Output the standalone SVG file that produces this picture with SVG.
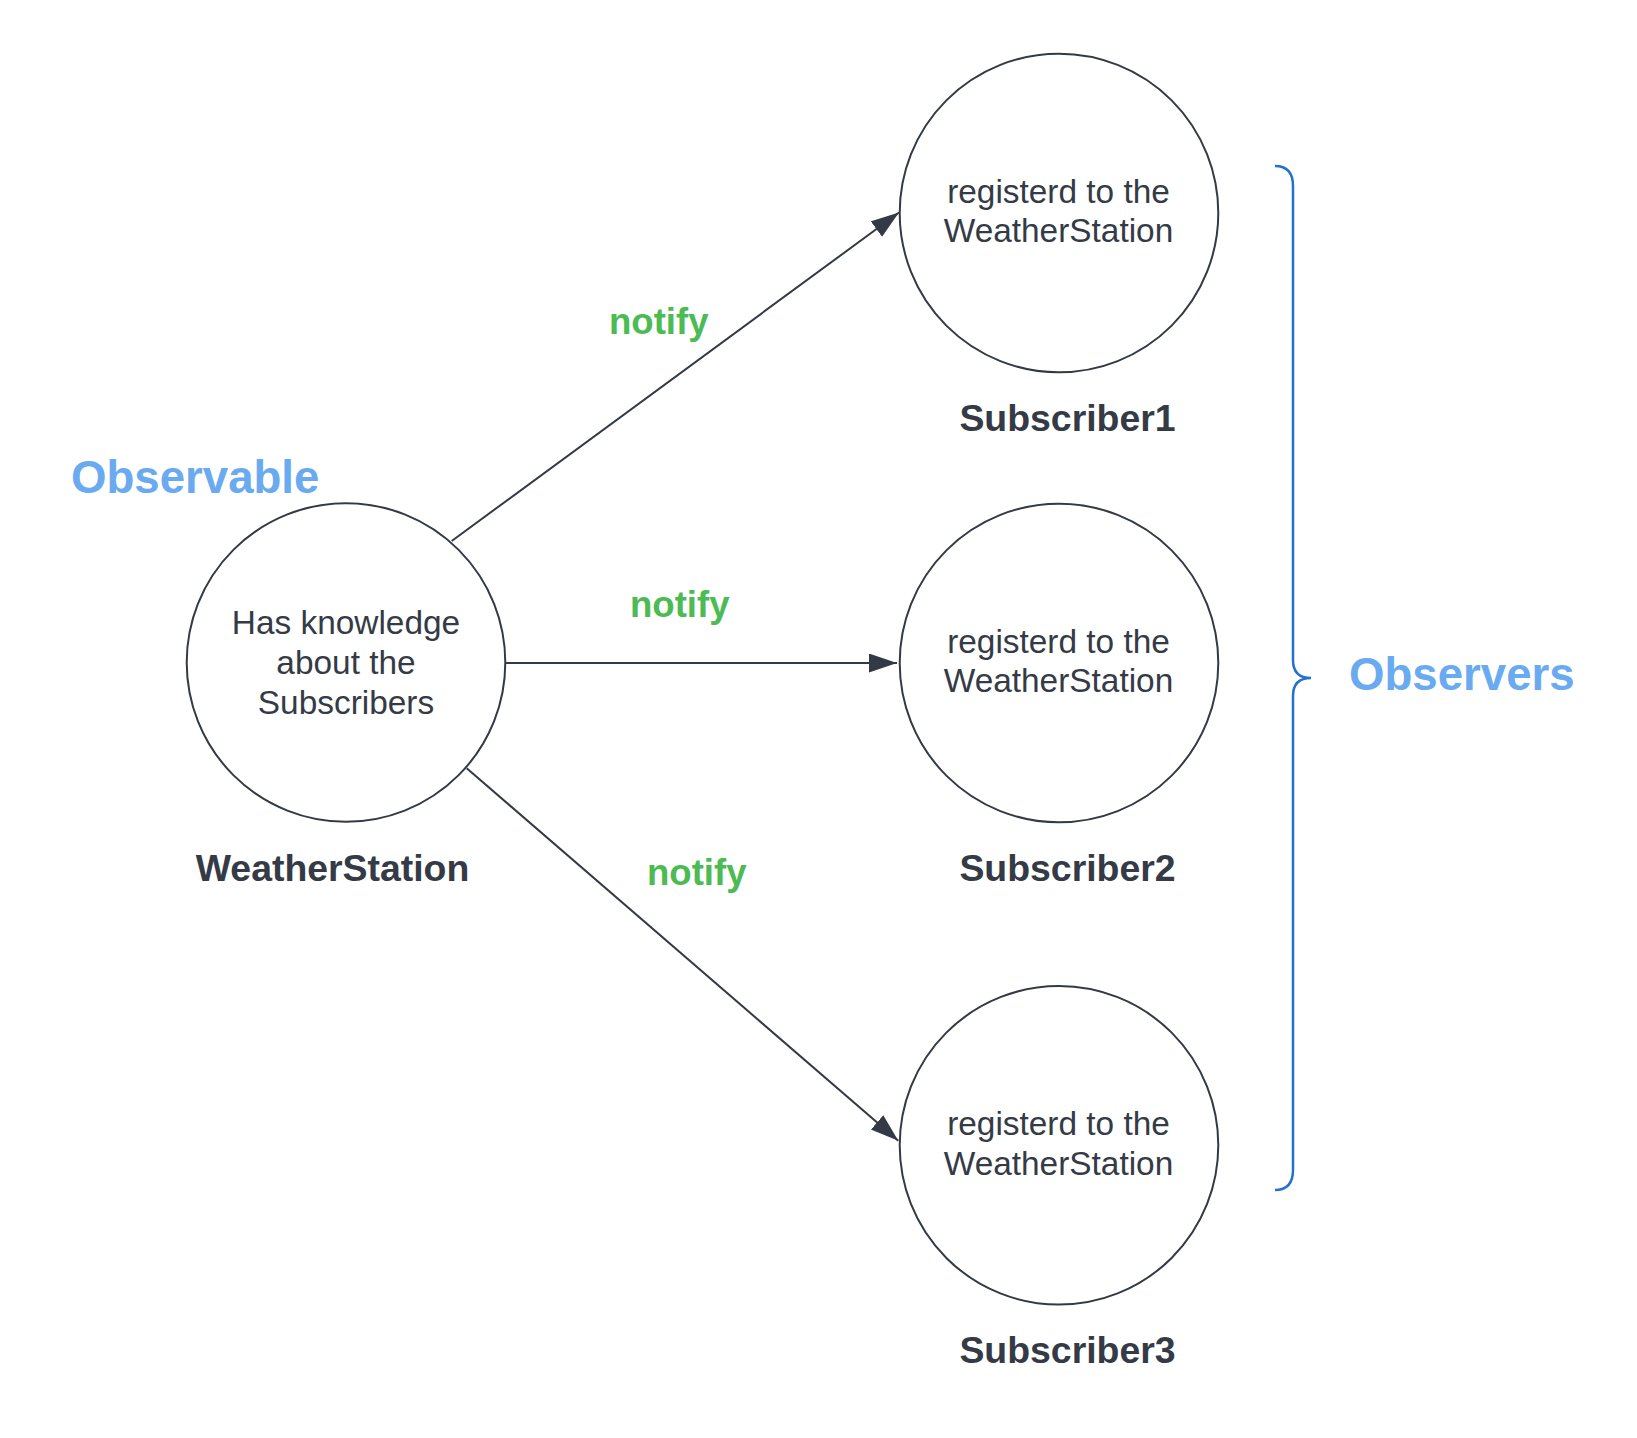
<svg xmlns="http://www.w3.org/2000/svg" width="1637" height="1438" viewBox="0 0 1637 1438">
<style>
.node{fill:#ffffff;stroke:#333a45;stroke-width:2}
.inner{font-family:"Liberation Sans",Arial,sans-serif;font-size:33.4px;fill:#343b46;text-anchor:middle}
.label{font-family:"Liberation Sans",Arial,sans-serif;font-size:37.4px;font-weight:bold;fill:#343b46;text-anchor:middle}
.edge{stroke:#333a45;stroke-width:2;fill:none}
.notify{font-family:"Liberation Sans",Arial,sans-serif;font-size:36.6px;font-weight:bold;fill:#4cbb54}
.title{font-family:"Liberation Sans",Arial,sans-serif;font-size:45.6px;font-weight:bold;fill:#6aaaf0}
</style>
<defs>
<marker id="arrow" markerUnits="userSpaceOnUse" markerWidth="30" markerHeight="20" refX="28" refY="9.5" orient="auto">
<path d="M0,0 L28,9.5 L0,19 z" fill="#333a45"/>
</marker>
</defs>
<rect width="1637" height="1438" fill="#ffffff"/>
<g id="connectors">
<line class="edge" x1="451.7" y1="541" x2="899" y2="212.5" marker-end="url(#arrow)"/>
<line class="edge" x1="505.7" y1="663" x2="897" y2="663" marker-end="url(#arrow)"/>
<line class="edge" x1="466.7" y1="768.3" x2="898.3" y2="1140.7" marker-end="url(#arrow)"/>
<text class="notify" x="609" y="334">notify</text>
<text class="notify" x="630" y="617">notify</text>
<text class="notify" x="647" y="885">notify</text>
</g>
<g id="weatherstation">
<circle class="node" cx="346" cy="662.5" r="159.3"/>
<text class="inner" x="346" y="634">Has knowledge</text>
<text class="inner" x="346" y="674">about the</text>
<text class="inner" x="346" y="714">Subscribers</text>
<text class="label" x="332.5" y="880.5">WeatherStation</text>
</g>
<g id="subscriber1">
<circle class="node" cx="1059" cy="213" r="159.3"/>
<text class="inner" x="1058.5" y="202.5">registerd to the</text>
<text class="inner" x="1058.5" y="242">WeatherStation</text>
<text class="label" x="1067.5" y="431">Subscriber1</text>
</g>
<g id="subscriber2">
<circle class="node" cx="1059" cy="663" r="159.3"/>
<text class="inner" x="1058.5" y="652.7">registerd to the</text>
<text class="inner" x="1058.5" y="692.2">WeatherStation</text>
<text class="label" x="1067.5" y="881">Subscriber2</text>
</g>
<g id="subscriber3">
<circle class="node" cx="1059" cy="1145.3" r="159.3"/>
<text class="inner" x="1058.5" y="1135">registerd to the</text>
<text class="inner" x="1058.5" y="1174.5">WeatherStation</text>
<text class="label" x="1067.5" y="1363">Subscriber3</text>
</g>
<g id="observable">
<text class="title" x="71" y="493">Observable</text>
</g>
<g id="observers">
<path d="M1275,166 Q1293,166 1293,186 L1293,660 Q1293,678 1311,678 Q1293,678 1293,696 L1293,1170 Q1293,1190 1275,1190" fill="none" stroke="#2470d0" stroke-width="2.5"/>
<text class="title" x="1349" y="690">Observers</text>
</g>
</svg>
